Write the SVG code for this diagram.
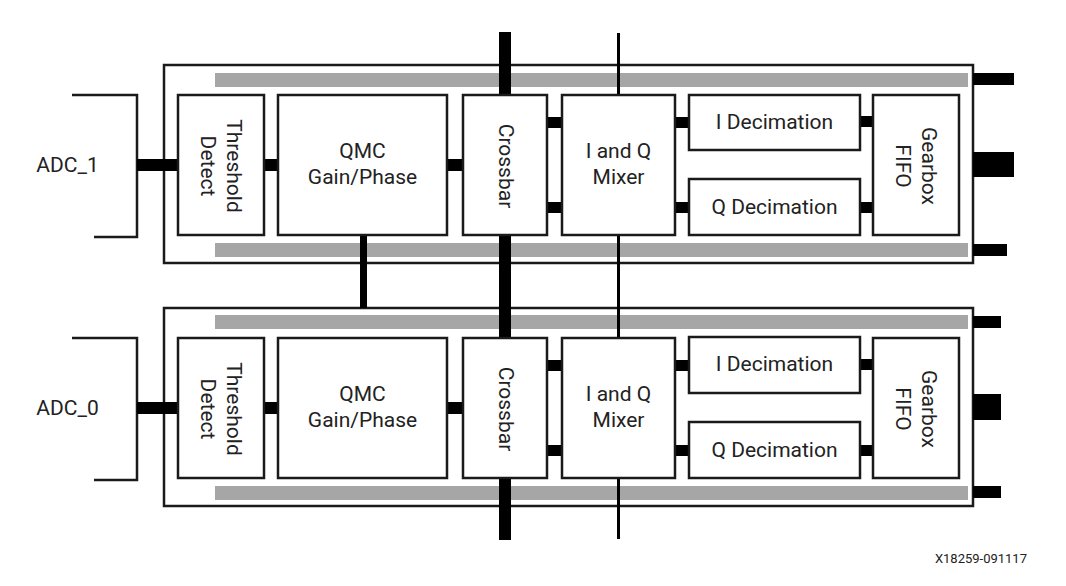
<svg xmlns="http://www.w3.org/2000/svg" width="1066" height="586" viewBox="0 0 1066 586">
<style>
.frame{fill:#fff;stroke:#1a1a1a;stroke-width:2.5}
.bar{fill:#a6a6a6}
.box{fill:#fff;stroke:#1a1a1a;stroke-width:2.5}
.stub{fill:#000}
.brk{fill:none;stroke:#1a1a1a;stroke-width:2.5}
.t{font-family:Roboto,"Liberation Sans",sans-serif;font-size:21px;fill:#222;text-anchor:middle}
.small{font-family:Roboto,"Liberation Sans",sans-serif;font-size:13px;fill:#222;text-anchor:end}
</style>
<rect width="1066" height="586" fill="#fff"/>

<!-- tile frames -->
<g id="tile1">
<rect class="frame" x="164" y="65" width="809" height="198"/>
<rect class="bar" x="215" y="73" width="753" height="14"/>
<rect class="bar" x="215" y="243" width="753" height="14"/>
</g>
<g id="tile0">
<rect class="frame" x="164" y="308" width="809" height="198"/>
<rect class="bar" x="215" y="315" width="753" height="14"/>
<rect class="bar" x="215" y="486" width="753" height="14"/>
</g>

<!-- connectors -->
<g id="connectors">
<rect class="stub" x="499" y="32" width="12" height="508"/>
<rect class="stub" x="617" y="33" width="3" height="506"/>
<rect class="stub" x="360" y="234" width="7" height="74"/>
<g id="conn1">
<path class="brk" d="M72,95 H137 V237 H94"/>
<rect class="stub" x="137" y="159" width="41" height="12"/>
<rect class="stub" x="264" y="159" width="14" height="12"/>
<rect class="stub" x="447" y="159" width="16" height="12"/>
<rect class="stub" x="547" y="117" width="15" height="11"/>
<rect class="stub" x="547" y="202" width="15" height="11"/>
<rect class="stub" x="675" y="117" width="14" height="11"/>
<rect class="stub" x="675" y="202" width="14" height="11"/>
<rect class="stub" x="860" y="116" width="13" height="11"/>
<rect class="stub" x="860" y="202" width="13" height="11"/>
<rect class="stub" x="973" y="73" width="41" height="12"/>
<rect class="stub" x="973" y="152" width="41" height="25"/>
<rect class="stub" x="973" y="244" width="34" height="12"/>
</g>
<g id="conn0" transform="translate(0,243)">
<path class="brk" d="M72,95 H137 V237 H94"/>
<rect class="stub" x="137" y="159" width="41" height="12"/>
<rect class="stub" x="264" y="159" width="14" height="12"/>
<rect class="stub" x="447" y="159" width="16" height="12"/>
<rect class="stub" x="547" y="117" width="15" height="11"/>
<rect class="stub" x="547" y="202" width="15" height="11"/>
<rect class="stub" x="675" y="117" width="14" height="11"/>
<rect class="stub" x="675" y="202" width="14" height="11"/>
<rect class="stub" x="860" y="116" width="13" height="11"/>
<rect class="stub" x="860" y="202" width="13" height="11"/>
<rect class="stub" x="973" y="73" width="28" height="12"/>
<rect class="stub" x="973" y="151" width="28" height="26"/>
<rect class="stub" x="973" y="243" width="28" height="12"/>
</g>
</g>

<!-- nodes tile 1 -->
<g id="adc1"><text class="t" x="67.5" y="172">ADC_1</text></g>
<g id="threshold1">
<rect class="box" x="178" y="95" width="86" height="140"/>
<g transform="translate(221,166) rotate(90)"><text class="t" x="0" y="-6">Threshold</text><text class="t" x="0" y="20">Detect</text></g>
</g>
<g id="qmc1">
<rect class="box" x="278" y="95" width="169" height="140"/>
<text class="t" x="362.5" y="158">QMC</text><text class="t" x="362.5" y="184">Gain/Phase</text>
</g>
<g id="crossbar1">
<rect class="box" x="463" y="95" width="84" height="140"/>
<g transform="translate(505,166) rotate(90)"><text class="t" x="0" y="6">Crossbar</text></g>
</g>
<g id="mixer1">
<rect class="box" x="562" y="95" width="113" height="140"/>
<text class="t" x="618.5" y="158">I and Q</text><text class="t" x="618.5" y="184">Mixer</text>
</g>
<g id="idec1">
<rect class="box" x="689" y="95" width="171" height="55"/>
<text class="t" x="774.5" y="129">I Decimation</text>
</g>
<g id="qdec1">
<rect class="box" x="689" y="179" width="171" height="56"/>
<text class="t" x="774.5" y="214">Q Decimation</text>
</g>
<g id="gearbox1">
<rect class="box" x="873" y="95" width="86" height="140"/>
<g transform="translate(916,166) rotate(90)"><text class="t" x="0" y="-6">Gearbox</text><text class="t" x="0" y="20">FIFO</text></g>
</g>

<!-- nodes tile 0 -->
<g id="adc0"><text class="t" x="67.5" y="415">ADC_0</text></g>
<g id="threshold0">
<rect class="box" x="178" y="338" width="86" height="140"/>
<g transform="translate(221,409) rotate(90)"><text class="t" x="0" y="-6">Threshold</text><text class="t" x="0" y="20">Detect</text></g>
</g>
<g id="qmc0">
<rect class="box" x="278" y="338" width="169" height="140"/>
<text class="t" x="362.5" y="401">QMC</text><text class="t" x="362.5" y="427">Gain/Phase</text>
</g>
<g id="crossbar0">
<rect class="box" x="463" y="338" width="84" height="140"/>
<g transform="translate(505,409) rotate(90)"><text class="t" x="0" y="6">Crossbar</text></g>
</g>
<g id="mixer0">
<rect class="box" x="562" y="338" width="113" height="140"/>
<text class="t" x="618.5" y="401">I and Q</text><text class="t" x="618.5" y="427">Mixer</text>
</g>
<g id="idec0">
<rect class="box" x="689" y="337" width="171" height="56"/>
<text class="t" x="774.5" y="371">I Decimation</text>
</g>
<g id="qdec0">
<rect class="box" x="689" y="422" width="171" height="56"/>
<text class="t" x="774.5" y="457">Q Decimation</text>
</g>
<g id="gearbox0">
<rect class="box" x="873" y="338" width="86" height="140"/>
<g transform="translate(916,409) rotate(90)"><text class="t" x="0" y="-6">Gearbox</text><text class="t" x="0" y="20">FIFO</text></g>
</g>

<text class="small" x="1027" y="563">X18259-091117</text>
</svg>
